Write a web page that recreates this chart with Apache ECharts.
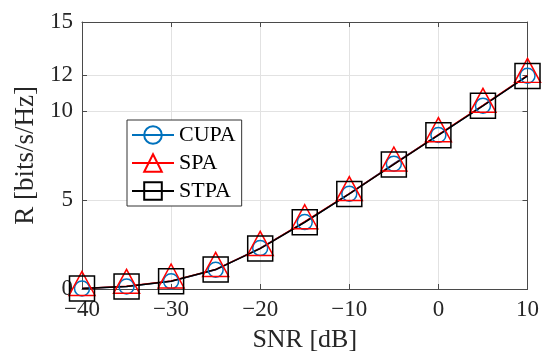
<!DOCTYPE html>
<html>
<head>
<meta charset="utf-8">
<script src="https://cdn.jsdelivr.net/npm/echarts@6/dist/echarts.min.js"></script>
<style>html,body{margin:0;padding:0;background:#fff;}#c{width:542px;height:359px;}</style>
</head>
<body>
<div id="c"></div>
<script>
const snr = [-40, -35, -30, -25, -20, -15, -10, -5, 0, 5, 10];
const cupa = [0.03, 0.14, 0.43, 1.08, 2.3, 3.76, 5.35, 7.04, 8.65, 10.3, 11.98];
const spa  = [0.03, 0.15, 0.45, 1.1, 2.28, 3.78, 5.36, 7.02, 8.67, 10.32, 12.0];
const stpa = [0.03, 0.14, 0.44, 1.09, 2.27, 3.75, 5.34, 7.0, 8.64, 10.29, 11.97];
const yTicks = [0, 5, 10, 12, 15];
const xTicks = [-40, -30, -20, -10, 0, 10];

const font = "'Liberation Serif', 'DejaVu Serif', serif";
const axisColor = '#4a4a4a';
const pairs = (ys) => snr.map((x, i) => [x, ys[i]]);
const fmtX = (v) => String(v).replace('-', '\u2212');

const chart = echarts.init(document.getElementById('c'), null, {renderer: 'canvas'});
chart.setOption({
  animation: false,
  backgroundColor: '#fff',
  grid: {left: 82, right: 13.5, top: 22, bottom: 70, containLabel: false},
  legend: {
    orient: 'vertical', left: 127, top: 120,
    itemWidth: 42, itemHeight: 22, itemGap: 6,
    padding: [4, 6, 4, 4],
    borderColor: '#333', borderWidth: 1, backgroundColor: '#fff',
    textStyle: {fontFamily: font, fontSize: 22, color: '#000'},
    data: ['CUPA', 'SPA', 'STPA']
  },
  xAxis: [{
    type: 'value', min: xTicks[0], max: xTicks[xTicks.length - 1], interval: 10,
    name: 'SNR [dB]', nameLocation: 'middle', nameGap: 38,
    nameTextStyle: {fontFamily: font, fontSize: 26, color: '#262626'},
    axisLine: {show: true, onZero: false, lineStyle: {color: axisColor, width: 1}},
    axisTick: {show: true, inside: true, length: 5, lineStyle: {color: axisColor}},
    axisLabel: {fontFamily: font, fontSize: 23, color: '#262626', margin: 9, formatter: fmtX},
    splitLine: {show: true, lineStyle: {color: '#e2e2e2', width: 1}}
  }, {
    type: 'value', position: 'top', min: xTicks[0], max: xTicks[xTicks.length - 1], interval: 10,
    axisLine: {show: true, onZero: false, lineStyle: {color: axisColor, width: 1}},
    axisTick: {show: true, inside: true, length: 5, lineStyle: {color: axisColor}},
    axisLabel: {show: false}, splitLine: {show: false}
  }],
  yAxis: [{
    type: 'value', min: 0, max: 15,
    name: 'R [bits/s/Hz]', nameLocation: 'middle', nameGap: 42, nameRotate: 90,
    nameTextStyle: {fontFamily: font, fontSize: 27, color: '#262626'},
    axisLine: {show: true, onZero: false, lineStyle: {color: axisColor, width: 1}},
    axisTick: {show: true, inside: true, length: 5, customValues: yTicks, lineStyle: {color: axisColor}},
    axisLabel: {fontFamily: font, fontSize: 23, color: '#262626', margin: 9, customValues: yTicks},
    splitLine: {show: true, lineStyle: {color: '#e2e2e2', width: 1}}
  }, {
    type: 'value', position: 'right', min: 0, max: 15,
    axisLine: {show: true, onZero: false, lineStyle: {color: axisColor, width: 1}},
    axisTick: {show: true, inside: true, length: 5, customValues: yTicks, lineStyle: {color: axisColor}},
    axisLabel: {show: false, customValues: yTicks}, splitLine: {show: false}
  }],
  series: [{
    name: 'CUPA', type: 'line', data: pairs(cupa),
    symbol: 'circle', symbolSize: 15, showAllSymbol: true,
    itemStyle: {color: 'rgba(0,0,0,0)', borderColor: '#0072BD', borderWidth: 1.5},
    lineStyle: {color: '#0072BD', width: 1.5}
  }, {
    name: 'SPA', type: 'line', data: pairs(spa),
    symbol: 'triangle', symbolSize: [26, 24], symbolOffset: [0, -5], showAllSymbol: true,
    itemStyle: {color: 'rgba(0,0,0,0)', borderColor: '#FF0000', borderWidth: 1.5},
    lineStyle: {color: '#FF0000', width: 1.5}
  }, {
    name: 'STPA', type: 'line', data: pairs(stpa),
    symbol: 'rect', symbolSize: 25, showAllSymbol: true,
    itemStyle: {color: 'rgba(0,0,0,0)', borderColor: '#000000', borderWidth: 1.5},
    lineStyle: {color: '#000000', width: 1.5}
  }]
});
</script>
</body>
</html>
